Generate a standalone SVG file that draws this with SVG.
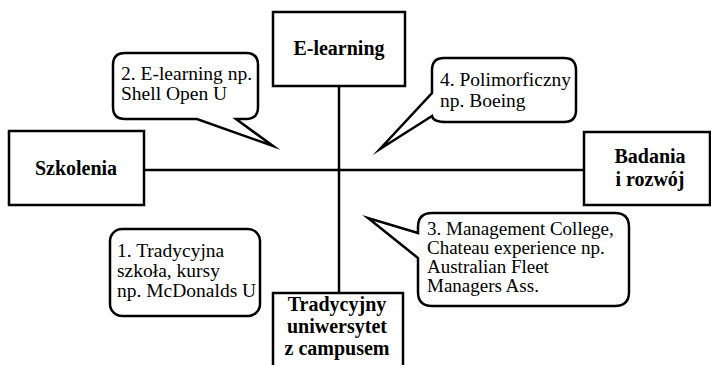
<svg xmlns="http://www.w3.org/2000/svg" width="711" height="365" viewBox="0 0 711 365">
  <style>
    .box { fill: #fff; stroke: #000; stroke-width: 2.5; }
    .link { stroke: #000; stroke-width: 2.5; fill: none; }
    .bubble { fill: #fff; stroke: #000; stroke-width: 2.5; stroke-linejoin: miter; stroke-miterlimit: 20; }
    .lbl { font-family: "Liberation Serif", "Times New Roman", serif; font-weight: bold; font-size: 20px; fill: #000; text-anchor: middle; }
    .note { font-family: "Liberation Serif", "Times New Roman", serif; font-size: 19.5px; fill: #000; }
    .note.tight { font-size: 19px; }
  </style>
  <rect width="711" height="365" fill="#fff"/>

  <!-- axes joining the four boxes -->
  <g id="connectors">
    <line class="link" x1="339" y1="86" x2="339" y2="294"/>
    <line class="link" x1="144" y1="170" x2="584" y2="170"/>
  </g>

  <g id="e-learning">
    <rect class="box" x="273" y="12" width="132" height="74"/>
    <text class="lbl" x="339" y="55">E-learning</text>
  </g>

  <g id="szkolenia">
    <rect class="box" x="9" y="131" width="135" height="74"/>
    <text class="lbl" x="76" y="175">Szkolenia</text>
  </g>

  <g id="badania">
    <rect class="box" x="584" y="132" width="126" height="73"/>
    <text class="lbl" x="650" y="163">Badania</text>
    <text class="lbl" x="650" y="186">i rozwój</text>
  </g>

  <g id="uniwersytet">
    <rect class="box" x="273" y="293" width="130" height="80"/>
    <text class="lbl" x="337" y="311">Tradycyjny</text>
    <text class="lbl" x="337" y="333">uniwersytet</text>
    <text class="lbl" x="337" y="355">z campusem</text>
  </g>

  <!-- speech bubbles for the four quadrants -->
  <g id="q1">
    <rect class="bubble" x="110" y="229" width="150" height="87" rx="12" ry="12"/>
    <text class="note" x="117" y="257">1. Tradycyjna</text>
    <text class="note" x="117" y="277">szkoła, kursy</text>
    <text class="note" x="117" y="297">np. McDonalds U</text>
  </g>

  <g id="q2">
    <path class="bubble" d="M125,53 H246 Q258,53 258,65 V107 Q258,119 246,119 H236 L273,146 L197,119 H125 Q113,119 113,107 V65 Q113,53 125,53 Z"/>
    <text class="note" x="121" y="80">2. E-learning np.</text>
    <text class="note" x="121" y="100">Shell Open U</text>
  </g>

  <g id="q3">
    <path class="bubble" d="M432,213 H615 Q629,213 629,227 V292 Q629,306 615,306 H432 Q418,306 418,292 V258 L368,218 L418,233 V227 Q418,213 432,213 Z"/>
    <text class="note tight" x="427" y="235">3. Management College,</text>
    <text class="note tight" x="427" y="254">Chateau experience np.</text>
    <text class="note tight" x="427" y="273">Australian Fleet</text>
    <text class="note tight" x="427" y="292">Managers Ass.</text>
  </g>

  <g id="q4">
    <path class="bubble" d="M444,58 H564 Q576,58 576,70 V110 Q576,122 564,122 H446 Q433,122 432,116 L380,149 L432,93 V70 Q432,58 444,58 Z"/>
    <text class="note" x="440" y="86">4. Polimorficzny</text>
    <text class="note" x="440" y="107">np. Boeing</text>
  </g>
</svg>
